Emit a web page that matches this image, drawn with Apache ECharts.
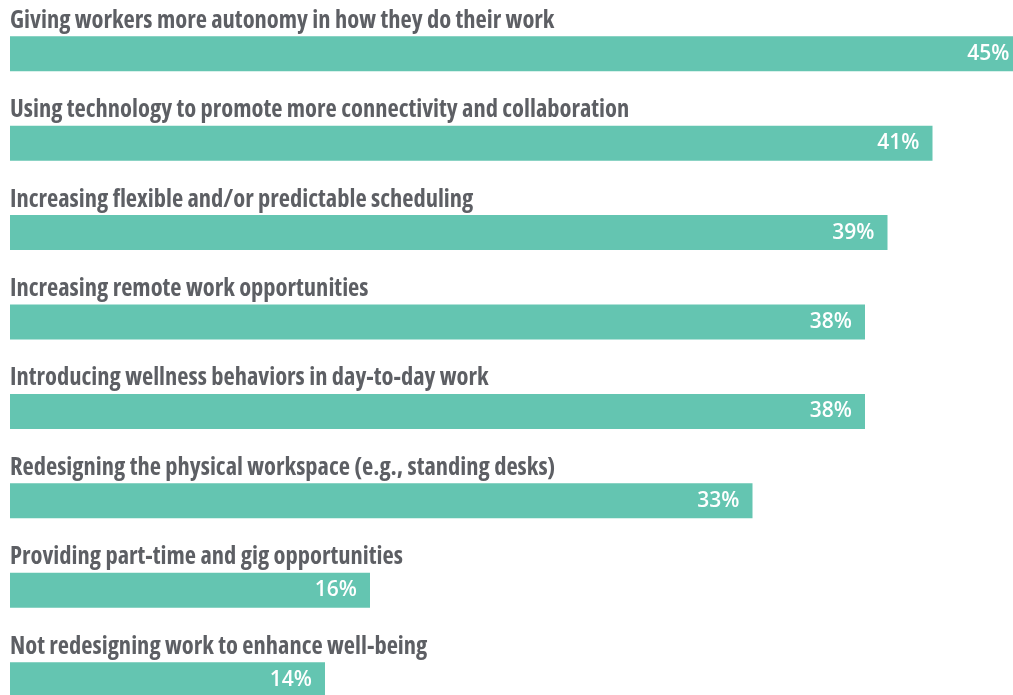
<!DOCTYPE html>
<html><head><meta charset="utf-8">
<script src="https://cdn.jsdelivr.net/npm/echarts@6/dist/echarts.min.js"></script>
<style>html,body{margin:0;padding:0;background:#fff}#c{width:1013px;height:695px}</style>
</head><body><div id="c"></div>
<script>
const categories = [
  "Giving workers more autonomy in how they do their work",
  "Using technology to promote more connectivity and collaboration",
  "Increasing flexible and/or predictable scheduling",
  "Increasing remote work opportunities",
  "Introducing wellness behaviors in day-to-day work",
  "Redesigning the physical workspace (e.g., standing desks)",
  "Providing part-time and gig opportunities",
  "Not redesigning work to enhance well-being"
];
const values = [45, 41, 39, 38, 38, 33, 16, 14];

const chart = echarts.init(document.getElementById('c'));
chart.setOption({
  backgroundColor: '#fff',
  animation: false,
  grid: { left: 10, top: 9, width: 1012.5, height: 715.4, containLabel: false, outerBoundsMode: 'none' },
  xAxis: { type: 'value', min: 0, max: 45, show: false },
  yAxis: {
    type: 'category', data: categories, inverse: true, show: false
  },
  series: [{
    type: 'bar', data: values, barWidth: 35, z: 2,
    itemStyle: { color: '#64c5b1' },
    label: {
      show: true, position: 'insideRight', distance: 13,
      formatter: p => p.value + '%',
      fontFamily: '"Open Sans", sans-serif', fontWeight: 600, fontSize: 21, color: '#fff'
    }
  }, {
    type: 'bar', data: values, barWidth: 35, barGap: '-100%', z: 3, silent: true,
    itemStyle: { color: 'rgba(0,0,0,0)' },
    label: {
      show: true, position: [0, -28], align: 'left', verticalAlign: 'top',
      formatter: p => p.name,
      fontFamily: '"Open Sans", sans-serif',
      fontWeight: 'bold condensed', fontSize: 24.5, color: '#5d5f64'
    }
  }]
});
</script></body></html>
